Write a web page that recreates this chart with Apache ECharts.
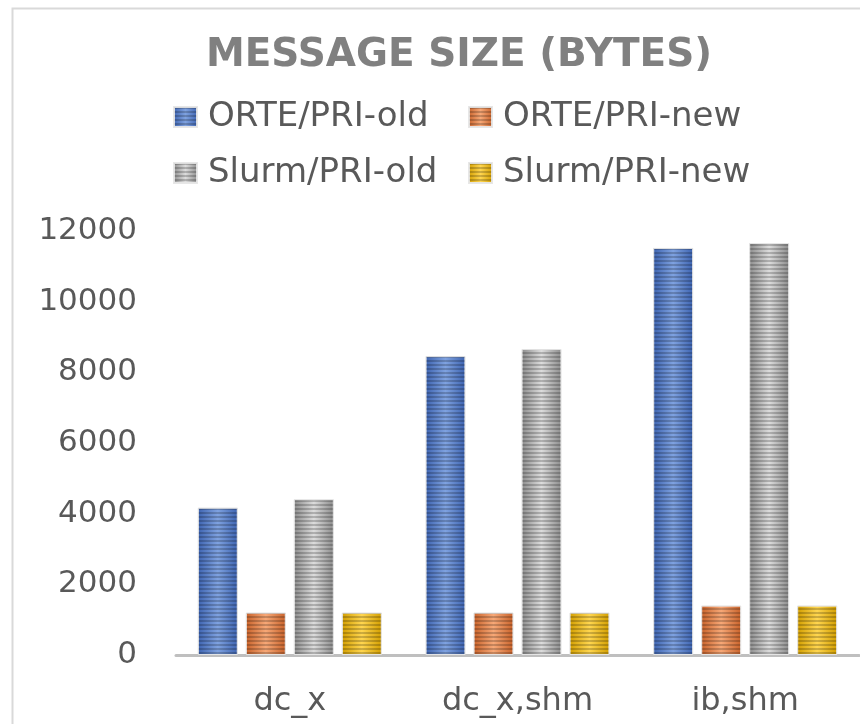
<!DOCTYPE html>
<html><head><meta charset="utf-8">
<script src="https://cdn.jsdelivr.net/npm/echarts@6/dist/echarts.min.js"></script>
<style>html,body{margin:0;padding:0;background:#fff}#c{width:860px;height:724px}</style>
</head><body><div id="c"></div>
<script>
const titleText = 'MESSAGE SIZE (BYTES)';
const categories = ['dc_x', 'dc_x,shm', 'ib,shm'];
const seriesNames = ['ORTE/PRI-old', 'ORTE/PRI-new', 'Slurm/PRI-old', 'Slurm/PRI-new'];
const orteOld = [4170, 8460, 11520];
const orteNew = [1200, 1200, 1400];
const slurmOld = [4410, 8660, 11660];
const slurmNew = [1200, 1200, 1400];
const yMin = 0, yMax = 12000, yStep = 2000;

const FONT = 'DejaVu Sans';
const palettes = [
  ['#3d63b0', '#7fa2e0'],
  ['#c8622a', '#f7a877'],
  ['#8c8c8c', '#dcdcdc'],
  ['#d29e00', '#ffd650']
];
function grad(p) {
  return new echarts.graphic.LinearGradient(0, 0, 1, 0, [
    { offset: 0, color: p[0] }, { offset: 0.5, color: p[1] }, { offset: 1, color: p[0] }
  ]);
}
const decal = { symbol: 'rect', symbolSize: 1, color: 'rgba(0,0,0,0.2)', dashArrayX: [1, 0], dashArrayY: [2, 2], rotation: 0 };
const values = [orteOld, orteNew, slurmOld, slurmNew];

const legendPos = [[173, 100], [468, 100], [173, 156], [468, 156]];
const legends = seriesNames.map((n, i) => ({
  data: [n], left: legendPos[i][0], top: legendPos[i][1], orient: 'horizontal',
  itemWidth: 23, itemHeight: 20, icon: 'rect', padding: 0,
  textStyle: { fontFamily: FONT, fontSize: 34, color: '#595959', padding: [0, 0, 0, 6] },
  selectedMode: false
}));

const chart = echarts.init(document.getElementById('c'), null, { renderer: 'canvas' });
chart.setOption({
  animation: false,
  backgroundColor: '#fff',
  title: { text: titleText, left: 454, top: 31, textAlign: 'center',
    textStyle: { fontFamily: FONT, fontSize: 39, fontWeight: 'bold', color: '#808080' } },
  legend: legends,
  graphic: [{ type: 'rect', left: 10, top: 6, shape: { width: 900, height: 800 },
    style: { fill: 'none', stroke: '#d9d9d9', lineWidth: 2 }, silent: true }],
  grid: { left: 176, right: 1, top: 231, bottom: 69 },
  xAxis: {
    type: 'category', data: categories,
    axisLine: { lineStyle: { color: '#bfbfbf', width: 3 } },
    axisTick: { show: false },
    axisLabel: { fontFamily: FONT, fontSize: 32, color: '#595959', margin: 31 }
  },
  yAxis: {
    type: 'value', min: yMin, max: yMax, interval: yStep,
    axisLine: { show: false }, axisTick: { show: false }, splitLine: { show: false },
    axisLabel: { fontFamily: FONT, fontSize: 31, color: '#595959', margin: 39,
      formatter: v => String(v) }
  },
  series: seriesNames.map((n, i) => ({
    name: n, type: 'bar', data: values[i], barWidth: 40, barGap: '20%',
    itemStyle: { color: grad(palettes[i]), decal: decal, borderColor: 'rgba(230,230,230,0.8)', borderWidth: 1 }
  }))
});
</script></body></html>
